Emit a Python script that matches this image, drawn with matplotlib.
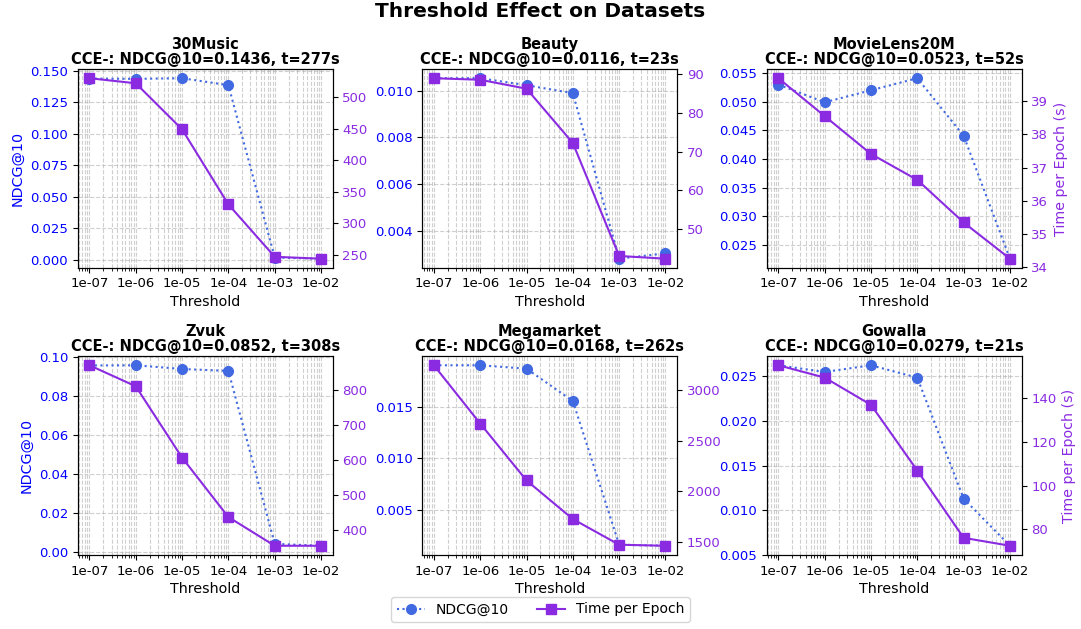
"""
Threshold effect on datasets: NDCG@10 and time per epoch vs threshold.
"""
import numpy as np
import matplotlib
matplotlib.use("Agg")
import matplotlib.pyplot as plt
from matplotlib.ticker import LogLocator, NullFormatter

#%%
# thresholds and tick labels
thresholds = [1e-7, 1e-6, 1e-5, 1e-4, 1e-3, 1e-2]
tick_labels = ["1e-07", "1e-06", "1e-05", "1e-04", "1e-03", "1e-02"]

datasets = ["30Music", "Beauty", "MovieLens20M", "Zvuk", "Megamarket", "Gowalla"]
cce_ndcg = [0.1436, 0.0116, 0.0523, 0.0852, 0.0168, 0.0279]
cce_time = [277, 23, 52, 308, 262, 21]

# NDCG@10 per threshold
ndcg_30music = [0.1438, 0.1436, 0.1441, 0.1386, 0.0019, 0.0010]
ndcg_beauty = [0.01053, 0.01053, 0.01023, 0.00989, 0.00281, 0.00304]
ndcg_ml20m = [0.05296, 0.04987, 0.05197, 0.05407, 0.04404, 0.0226]
ndcg_zvuk = [0.0956, 0.0957, 0.0938, 0.0928, 0.0040, 0.0030]
ndcg_megamarket = [0.0190, 0.0190, 0.01867, 0.01553, 0.0016, 0.0015]
ndcg_gowalla = [0.02624, 0.02549, 0.02624, 0.02485, 0.01127, 0.0060]

# time per epoch (s) per threshold
time_30music = [530, 522, 449, 330, 247, 244]
time_beauty = [88.9, 88.5, 86.2, 72.2, 43.1, 42.4]
time_ml20m = [39.69, 38.55, 37.41, 36.63, 35.35, 34.26]
time_zvuk = [870, 810, 606, 436, 354, 354]
time_megamarket = [3239, 2667, 2108, 1729, 1477, 1467]
time_gowalla = [154.7, 149.1, 136.7, 106.8, 76.2, 72.6]

ndcg_all = [ndcg_30music, ndcg_beauty, ndcg_ml20m, ndcg_zvuk, ndcg_megamarket, ndcg_gowalla]
time_all = [time_30music, time_beauty, time_ml20m, time_zvuk, time_megamarket, time_gowalla]

#%%
fig, axes = plt.subplots(2, 3, figsize=(10.81, 6.29), dpi=100)
fig.subplots_adjust(left=0.072, right=0.945, top=0.890, bottom=0.118,
                    wspace=0.352, hspace=0.446)

for i, ax in enumerate(axes.flat):
    ax.plot(thresholds, ndcg_all[i], linestyle=":", marker="o", color="royalblue",
            markersize=7, label="NDCG@10")
    ax.set_xscale("log")
    ax.set_xticks(thresholds)
    ax.set_xticklabels(tick_labels)
    ax.xaxis.set_minor_locator(LogLocator(base=10, subs=np.arange(2, 10), numticks=100))
    ax.xaxis.set_minor_formatter(NullFormatter())
    ax.set_xlabel("Threshold", fontsize=10.3, labelpad=3)
    ax.tick_params(axis="both", labelsize=9.5)
    ax.tick_params(axis="y", labelcolor="blue")
    ax.grid(True, which="both", linestyle="--", alpha=0.6)
    ax.set_title(f"{datasets[i]}\nCCE-: NDCG@10={cce_ndcg[i]:.4f}, t={cce_time[i]}s",
                 fontweight="bold", fontsize=10.5, pad=4, linespacing=1.0)
    if i % 3 == 0:
        ax.set_ylabel("NDCG@10", color="blue", fontsize=10.3)

    ax2 = ax.twinx()
    ax2.plot(thresholds, time_all[i], linestyle="-", marker="s", color="blueviolet",
             markersize=7, label="Time per Epoch")
    ax2.tick_params(axis="y", labelcolor="blueviolet", labelsize=9.5)
    if i % 3 == 2:
        ax2.set_ylabel("Time per Epoch (s)", color="blueviolet", fontsize=10.3)

    if i == 0:
        h1, l1 = ax.get_legend_handles_labels()
        h2, l2 = ax2.get_legend_handles_labels()

fig.legend(h1 + h2, l1 + l2, loc="lower center", ncol=2, bbox_to_anchor=(0.5, 0.0))
fig.suptitle("Threshold Effect on Datasets", fontweight="bold", fontsize=14.5, y=0.997)

plt.savefig("out.png", dpi=100)
